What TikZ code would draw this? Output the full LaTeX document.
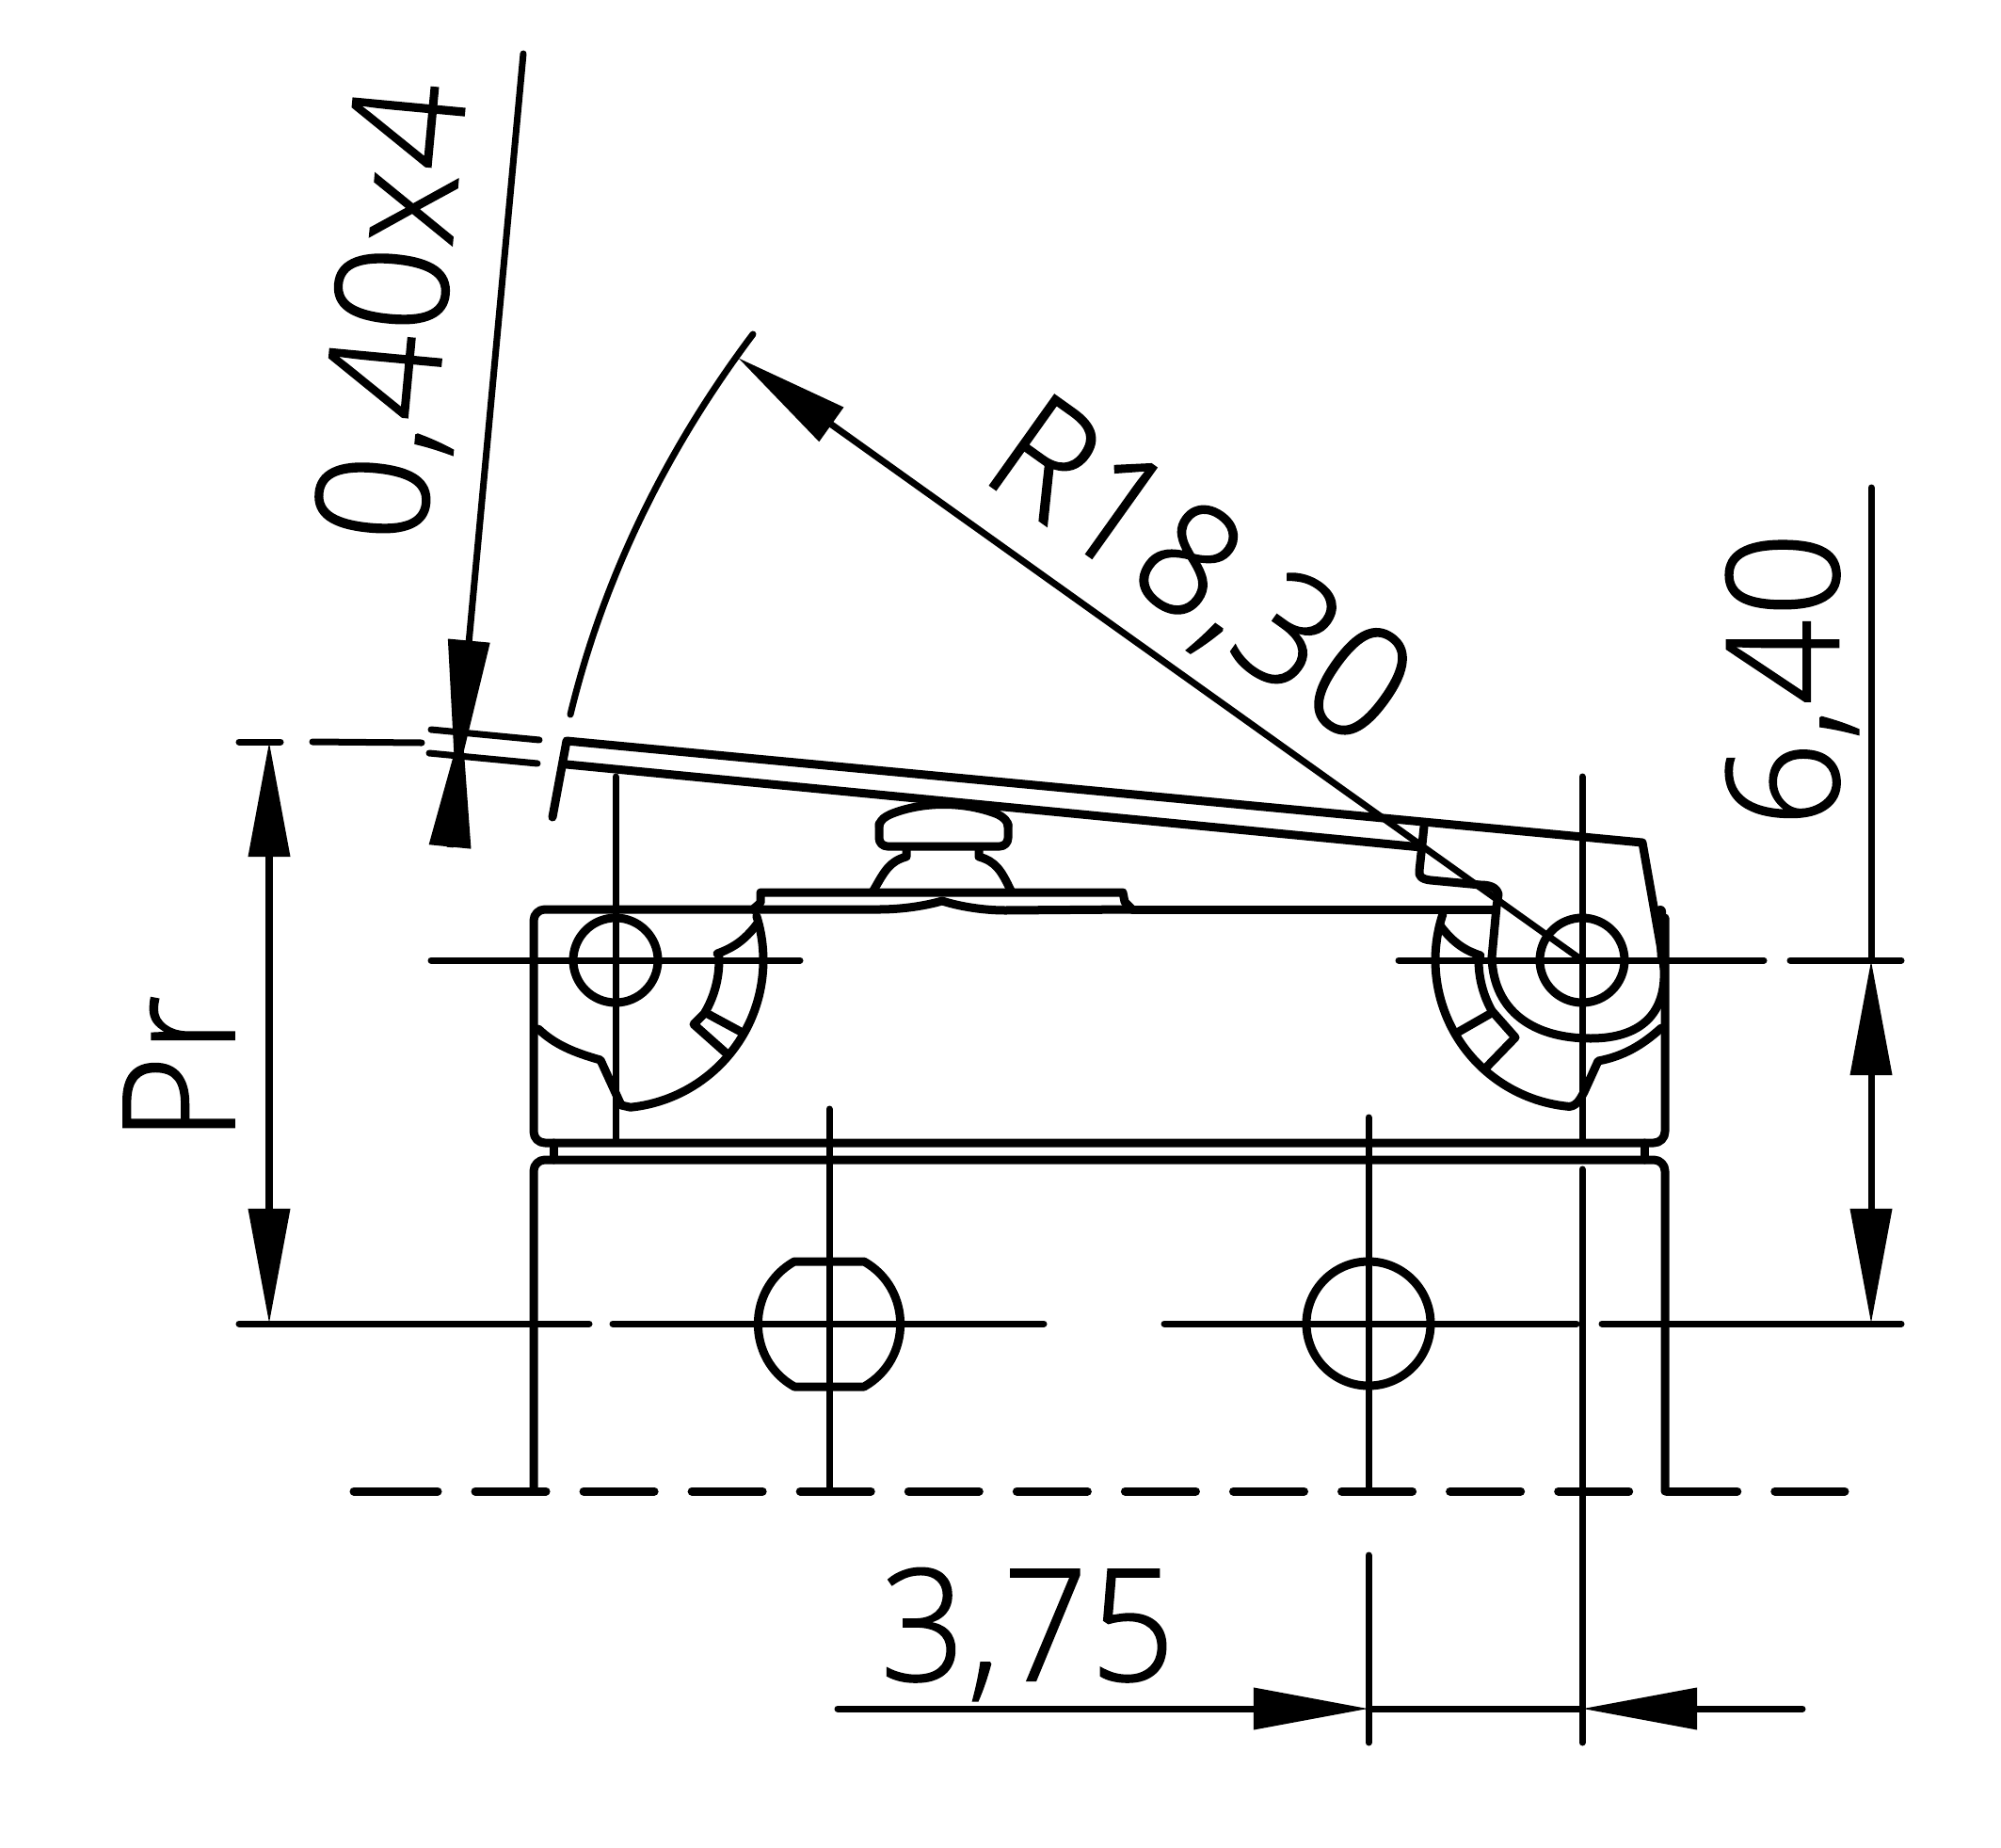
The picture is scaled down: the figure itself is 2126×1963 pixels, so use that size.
\documentclass[tikz,border=0pt]{standalone}
\usepackage{fontspec}
\setmainfont{Open Sans Light}
\usetikzlibrary{arrows.meta}
\tikzset{
  outl/.style={line width=.09cm,line cap=round,line join=round},
  cline/.style={line width=.07cm,line cap=round},
  dimtxt/.style={font=\fontsize{47}{47}\selectfont\addfontfeature{FakeStretch=.95,LetterSpace=2,FakeBold=1.2},inner sep=0pt},
  dimarrow/.tip={Triangle[length=1.22cm,width=.43cm]}
}
\begin{document}
\begin{tikzpicture}[x=.01cm,y=-.01cm]
\path[fill=white] (0,0) rectangle (2126,1963);
\coordinate (pivotL) at (654,1020);\coordinate (pivotR) at (1681,1020);
\coordinate (holeL) at (881,1406);\coordinate (holeR) at (1454,1406);
% centre lines
\draw[cline] (458,1020)--(850,1020);\draw[cline] (1486,1020)--(1874,1020);\draw[cline] (1902,1020)--(2020,1020);
\draw[cline] (254,1406)--(626,1406);\draw[cline] (651,1406)--(1109,1406);\draw[cline] (1237,1406)--(1675,1406);\draw[cline] (1702,1406)--(2020,1406);
\draw[cline] (654,825)--(654,1212);\draw[cline] (1681,825)--(1681,1212);\draw[cline] (1681,1242)--(1681,1851);
\draw[cline] (881,1178)--(881,1584);\draw[cline] (1454,1187)--(1454,1584);\draw[cline] (1454,1652)--(1454,1851);
% body
\draw[outl,rounded corners=3.4pt] (1769,975)--(1769,1214)--(567,1214)--(567,966)--(800,966);
\draw[outl,rounded corners=3.4pt] (567,1584)--(567,1232)--(1769,1232)--(1769,1584);
\draw[outl] (588,1214)--(588,1232);\draw[outl] (1747,1214)--(1747,1232);
\draw[outl] (1203,966)--(1587,966);
\draw[outl] (800,966)--(934,966) .. controls (955,966) and (980,963) .. (1001,957) .. controls (1020,963) and (1045,967) .. (1068,967)--(1203,966);
\draw[outl] (800,966)--(808,959)--(808,948)--(1193,948)--(1195,958)--(1203,966);
\draw[outl,line width=.12cm] (1764,968)--(1767,1020);
% push button
\draw[outl,rounded corners=2.5pt] (934,875)--(934,899)--(1071,899)--(1071,875);
\draw[outl] (934,877) .. controls (936,870) and (940,868) .. (946,865) .. controls (980,851) and (1025,851) .. (1060,865) .. controls (1066,868) and (1071,872) .. (1071,878);
\draw[outl] (963,903)--(963,910) .. controls (945,915) and (940,925) .. (928,946);
\draw[outl] (1040,903)--(1040,910) .. controls (1058,915) and (1064,925) .. (1074,946);
% lever
\draw[outl] (1585,1017)--(1590,963)--(1592,950) .. controls (1590,942) and (1582,940) .. (1573,940)--(1520,935) .. controls (1510,934) and (1507,930) .. (1508,925)--(1513,878);
\draw[outl] (602,812)--(1510,900);
\draw[outl] (587,868)--(602,787)--(1745,895)--(1767,1020);
\draw[outl] (1585,1017) .. controls (1587,1075) and (1630,1103) .. (1690,1103) .. controls (1745,1103) and (1770,1075) .. (1768,1030)--(1767,1020);
% left cam
\draw[outl] (pivotL) ++(-17.4:157) arc[start angle=-17.4,end angle=84.2,radius=157]--(660,1174)--(638,1126) .. controls (610,1118) and (590,1110) .. (572,1093);
\draw[outl] (804,982) .. controls (790,1000) and (778,1007) .. (762,1013);
\draw[outl] (pivotL) ++(-3.7:110) arc[start angle=-3.7,end angle=31,radius=110]--(737,1088)--(773,1120);
\draw[outl] (752,1077)--(789,1097);
% right cam
\draw[outl] (pivotR) ++(198.3:156) arc[start angle=198.3,end angle=96.5,radius=156] .. controls (1675,1178) and (1680,1165) .. (1683,1160)--(1698,1127) .. controls (1725,1122) and (1745,1110) .. (1765,1092);
\draw[outl] (1530,983) .. controls (1545,1003) and (1558,1010) .. (1573,1015);
\draw[outl] (pivotR) ++(182.6:110) arc[start angle=182.6,end angle=150.7,radius=110]--(1610,1102)--(1578,1135);
\draw[outl] (1583,1077)--(1548,1097);
% holes
\draw[outl] (pivotL) circle (45);\draw[outl] (pivotR) circle (45);
\draw[outl] (844,1340)--(918,1340) .. controls (969.5,1369) and (969.5,1444) .. (918,1473)--(844,1473) .. controls (792.5,1444) and (792.5,1369) .. (844,1340)--cycle;
\draw[outl] (holeR) circle (66);
% base line
\draw[outl] (376,1584)--(465,1584);
\draw[outl,dash pattern=on .75cm off .4cm] (505,1584)--(1960,1584);
% radius arc
\draw[cline] (800,355) .. controls (709,476) and (641.5,612) .. (606,759);
\draw[cline,-{dimarrow}] (pivotR)--(784,380);
% lever thickness
\draw[cline] (254,788)--(298,788);\draw[cline] (332,788)--(448,789);
\draw[cline] (458,775)--(573,786);\draw[cline] (456,800)--(571,811);
\draw[cline,-{dimarrow[length=1.55cm]}] (556,57)--(484,835);
\draw[cline,line cap=butt,-{dimarrow[length=1.31cm]}] (478,900)--(491,769);
% dimensions
\draw[cline,{dimarrow}-{dimarrow}] (286,788)--(286,1406);
\draw[cline] (1988,518)--(1988,1020);
\draw[cline,{dimarrow}-{dimarrow}] (1988,1020)--(1988,1406);
\draw[cline,-{dimarrow}] (890,1815)--(1454,1815);
\draw[cline,-{dimarrow}] (1915,1815)--(1681,1815);
\draw[cline] (1454,1815)--(1681,1815);
\node[dimtxt] (lblPr) at (190,1135) [rotate=90] {Pr};
\node[dimtxt] (lblThk) at (424,332) [rotate=84.7] {0,40x4};
\node[dimtxt] (lblR) at (1272,612) [rotate=-35.5] {R18,30};
\node[dimtxt] (lblH) at (1904,722) [rotate=90] {6,40};
\node[dimtxt] (lblW) at (1092,1736) {3,75};
\end{tikzpicture}
\end{document}
